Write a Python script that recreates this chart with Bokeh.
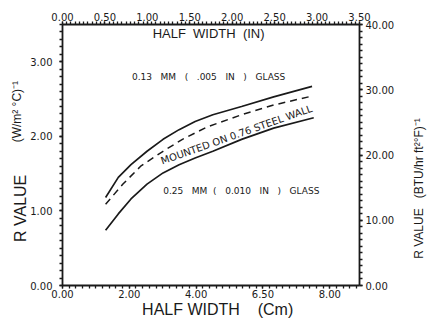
import math
import numpy as np
from bokeh.plotting import figure
from bokeh.models import Range1d, LinearAxis, FixedTicker, Label
from bokeh.embed import file_html
from bokeh.resources import INLINE

# ---- data ----
x_013 = [1.29, 1.67, 2.05, 2.53, 3.01, 3.49, 3.97, 4.50, 5.36, 6.32, 7.47]
r_013_glass = [1.18, 1.45, 1.62, 1.80, 1.96, 2.09, 2.20, 2.29, 2.40, 2.53, 2.67]
x_025 = [1.29, 1.67, 2.05, 2.53, 3.01, 3.49, 3.97, 4.50, 5.36, 6.32, 7.52]
r_025_glass = [0.74, 0.96, 1.16, 1.36, 1.51, 1.62, 1.71, 1.80, 1.96, 2.11, 2.25]
x_steel = [1.29, 1.81, 2.34, 3.01, 3.59, 4.35, 5.36, 6.32, 7.37]
r_steel = [1.09, 1.36, 1.60, 1.80, 1.96, 2.13, 2.29, 2.42, 2.53]

cm_ticks = [0, 2, 4, 6, 8]
cm_tick_labels = ["0.00", "2.00", "4.00", "6.50", "8.00"]
in_ticks = [0, 0.5, 1.0, 1.5, 2.0, 2.5, 3.0, 3.5]
in_tick_labels = ["0.00", "0.50", "1.00", "1.50", "2.00", "2.50", "3.00", "3.50"]
si_ticks = [0, 1, 2, 3]
si_tick_labels = ["0.00", "1.00", "2.00", "3.00"]
btu_ticks = [0, 10, 20, 30, 40]
btu_tick_labels = ["0.00", "10.00", "20.00", "30.00", "40.00"]

CM_MAX = 8.89
IN_MAX = 3.5
SI_MAX = 3.5
BTU_MAX = 40

INK = "#1a1a1a"
TICK_FONT = "DejaVu Sans"
TXT_FONT = "Liberation Sans"
NB = "\u00a0"

p = figure(width=436, height=320, x_range=Range1d(0, CM_MAX), y_range=Range1d(0, SI_MAX),
           output_backend="svg", toolbar_location=None,
           x_axis_location=None, y_axis_location=None,
           min_border_left=62, min_border_right=65, min_border_top=24, min_border_bottom=33)
p.grid.visible = False
p.outline_line_color = None
p.background_fill_color = "white"

p.extra_x_ranges = {"in": Range1d(0, IN_MAX)}
p.extra_y_ranges = {"btu": Range1d(0, BTU_MAX)}


def style_axis(ax, ticks, labels, minor_step, vmax, standoff):
    ax.ticker = FixedTicker(ticks=ticks, minor_ticks=list(np.arange(0, vmax + 1e-9, minor_step)))
    ax.major_label_overrides = {t: l for t, l in zip(ticks, labels)}
    ax.axis_line_color = INK
    ax.axis_line_width = 1.8
    ax.major_tick_line_color = INK
    ax.minor_tick_line_color = INK
    ax.major_tick_line_width = 1.3
    ax.minor_tick_line_width = 1.3
    ax.major_tick_out = 3
    ax.major_tick_in = 0
    ax.minor_tick_out = 3
    ax.minor_tick_in = 0
    ax.major_label_text_font = TICK_FONT
    ax.major_label_text_font_size = "10px"
    ax.major_label_text_color = INK
    ax.major_label_standoff = standoff
    ax.axis_label_text_color = INK
    ax.axis_label_text_font = TXT_FONT
    ax.axis_label_text_font_style = "normal"


bottom = LinearAxis()
style_axis(bottom, cm_ticks, cm_tick_labels, 0.2, CM_MAX, 1)
bottom.axis_label = NB * 3 + "HALF WIDTH" + NB * 4 + "(Cm)"
bottom.axis_label_text_font_size = "16px"
bottom.axis_label_standoff = 0
p.add_layout(bottom, "below")

top = LinearAxis(x_range_name="in")
style_axis(top, in_ticks, in_tick_labels, 0.05, IN_MAX, 1)
p.add_layout(top, "above")

left = LinearAxis()
style_axis(left, si_ticks, si_tick_labels, 0.1, SI_MAX, 7)
left.axis_label = "R VALUE" + NB * 24
left.axis_label_text_font_size = "16px"
left.axis_label_standoff = -2
p.add_layout(left, "left")

# second (bare) left axis that only carries the unit part of the left title
left_units = LinearAxis(ticker=FixedTicker(ticks=[]))
left_units.axis_line_color = None
left_units.major_tick_line_color = None
left_units.minor_tick_line_color = None
left_units.major_tick_out = 0
left_units.minor_tick_out = 0
left_units.axis_label = NB * 26 + "(W/m² °C)⁻¹"
left_units.axis_label_text_font = TXT_FONT
left_units.axis_label_text_font_style = "normal"
left_units.axis_label_text_font_size = "12px"
left_units.axis_label_text_color = INK
left_units.axis_label_standoff = -14
p.add_layout(left_units, "left")

right = LinearAxis(y_range_name="btu")
style_axis(right, btu_ticks, btu_tick_labels, 1, BTU_MAX, 3)
right.axis_label = NB * 8 + "R VALUE" + NB * 3 + "(BTU/hr ft²°F)⁻¹"
right.axis_label_text_font_size = "12px"
right.axis_label_standoff = 22
right.axis_label_orientation = 0.5 * math.pi
right.axis_label_align = "start"
p.add_layout(right, "right")

# ---- curves ----
p.line(x_013, r_013_glass, line_color=INK, line_width=1.7)
p.line(x_025, r_025_glass, line_color=INK, line_width=1.7)
p.line(x_steel, r_steel, line_color=INK, line_width=1.5, line_dash="7 5")


def px_x(px):
    return (px - 62) * CM_MAX / 309.0


def px_y(py):
    return (287 - py) * SI_MAX / 263.0


def lab(px, py, text, size, font=TXT_FONT, angle=0.0, style="normal"):
    p.add_layout(Label(x=px_x(px), y=px_y(py), text=text, text_font_size=size, text_font=font,
                       angle=angle, angle_units="rad", text_align="center", text_baseline="middle",
                       text_color=INK, text_font_style=style))


lab(214, 33, "HALF" + NB * 2 + "WIDTH" + NB * 2 + "(IN)", "13px")

S3 = NB * 3
lab(214, 77, "0.13" + S3 + "MM" + S3 + "(" + S3 + ".005" + S3 + "IN" + S3 + ")" + S3 + "GLASS",
    "9px", font=TICK_FONT)
lab(248, 192, "0.25" + S3 + "MM" + NB * 2 + "(" + S3 + "0.010" + S3 + "IN" + S3 + ")" + S3 + "GLASS",
    "9px", font=TICK_FONT)
lab(243, 135, "MOUNTED ON 0.76 STEEL WALL", "10px", font=TICK_FONT, angle=math.radians(19.5))

open("out.html", "w").write(file_html(p, INLINE))
